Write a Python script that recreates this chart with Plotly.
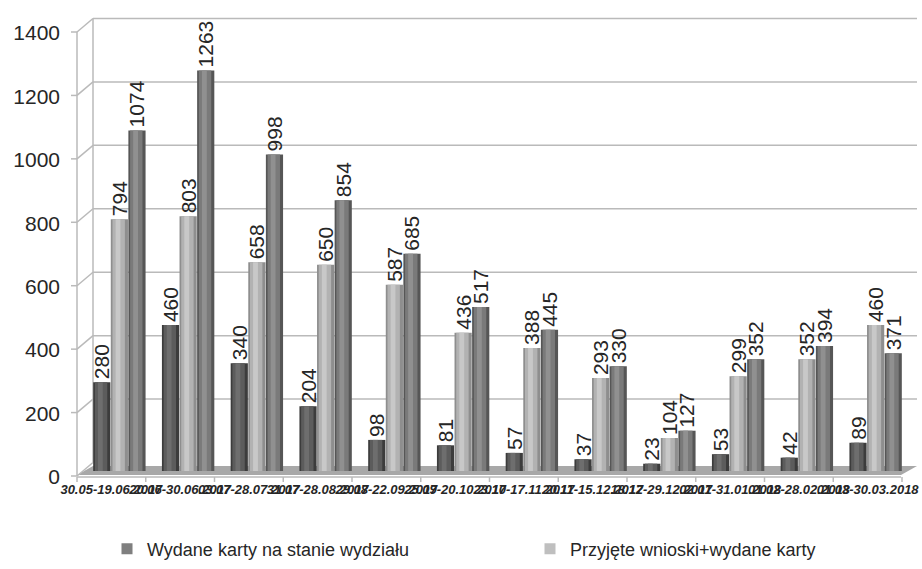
import plotly.graph_objects as go

# ---- data -------------------------------------------------------------
periods = [
    "30.05-19.06.2017", "20.06-30.06.2017", "03.07-28.07.2017", "31.07-28.08.2017",
    "29.08-22.09.2017", "25.09-20.10.2017", "23.10-17.11.2017", "20.11-15.12.2017",
    "18.12-29.12.2017", "02.01-31.01.2018", "01.02-28.02.2018", "01.03-30.03.2018",
]
wydane_na_stanie = [280, 460, 340, 204, 98, 81, 57, 37, 23, 53, 42, 89]
przyjete_wnioski = [794, 803, 658, 650, 587, 436, 388, 293, 104, 299, 352, 460]
wydane_karty = [1074, 1263, 998, 854, 685, 517, 445, 330, 127, 352, 394, 371]
y_ticks = [0, 200, 400, 600, 800, 1000, 1200, 1400]

# ---- page geometry (pixels) ------------------------------------------
W, H = 922, 569
L, R, T, B = 85, 12, 27, 98
PW, PH = W - L - R, H - T - B
Y_MAX = 1400
DX = 8           # half depth of the pseudo-3D box, horizontal
BACK_DY = 8.5    # back wall sits higher than the bar plane
FRONT_DY = 5     # front edge sits lower than the bar plane

FONT = "Liberation Sans, Arial, sans-serif"


def px(x):
    return (x - L) / PW


def py(y):
    return (T + PH - y) / PH


def mid_y(v):
    return T + PH - v * PH / Y_MAX


def line(x0, y0, x1, y1, color="#bababa", width=1.5):
    return dict(type="line", xref="paper", yref="paper",
                x0=px(x0), y0=py(y0), x1=px(x1), y1=py(y1),
                line=dict(color=color, width=width), layer="below")


shapes = []
x_front_l, x_back_l = L - DX, L + DX
x_back_r = W - R + DX - 1
x_front_r = x_back_r - 2 * DX

# floor slab
fl = [(x_front_l, mid_y(0) + 4), (x_front_r, mid_y(0) + 4),
      (x_back_r, mid_y(0) - 5), (x_back_l, mid_y(0) - 5)]
path = "M " + " L ".join(f"{px(a):.5f},{py(b):.5f}" for a, b in fl) + " Z"
shapes.append(dict(type="path", xref="paper", yref="paper", path=path,
                   fillcolor="#a8a8a8", line=dict(width=0), layer="below"))

# back wall grid, side wall diagonals, front axis ticks
for v in y_ticks:
    yb = mid_y(v) - BACK_DY
    yf = mid_y(v) + FRONT_DY
    if v > 0:
        shapes.append(line(x_back_l, yb, x_back_r, yb))
    shapes.append(line(x_front_l, yf, x_back_l, yb))
    shapes.append(line(x_front_l - 6, yf, x_front_l, yf))
shapes.append(line(x_back_l, mid_y(0) - BACK_DY, x_back_l, mid_y(Y_MAX) - BACK_DY))
shapes.append(line(x_front_l, mid_y(0) + FRONT_DY, x_front_l, mid_y(Y_MAX) + FRONT_DY))

# front category axis with boundary ticks
y_ax = mid_y(0) + 6
shapes.append(line(x_front_l, y_ax, x_front_r, y_ax))
step = PW / len(periods)
for k in range(len(periods) + 1):
    xk = x_front_l + k * step
    shapes.append(line(xk, y_ax, xk, y_ax + 5))

# ---- bars -------------------------------------------------------------
x_idx = list(range(len(periods)))
BW = 0.25
PITCH = 0.256

series = [
    (wydane_na_stanie, -PITCH, "#3c3c3c", "#5c5c5c", "#6e6e6e"),
    (przyjete_wnioski, 0.0, "#8e8e8e", "#b2b2b2", "#c8c8c8"),
    (wydane_karty, PITCH, "#565656", "#7a7a7a", "#909090"),
]

fig = go.Figure()
for vals, centre, edge, body, shine in series:
    fig.add_trace(go.Bar(
        x=x_idx, y=vals, width=BW, offset=centre - BW / 2,
        marker=dict(color=edge, line=dict(width=0)),
        text=[str(v) for v in vals], textposition="outside", textangle=-90,
        constraintext="none", cliponaxis=False,
        textfont=dict(family=FONT, size=21, color="#262626"),
        showlegend=False, hoverinfo="skip",
    ))
    fig.add_trace(go.Bar(
        x=x_idx, y=vals, width=BW * 0.72, offset=centre - BW * 0.40,
        marker=dict(color=body, line=dict(width=0)),
        showlegend=False, hoverinfo="skip",
    ))
    fig.add_trace(go.Bar(
        x=x_idx, y=vals, width=BW * 0.28, offset=centre - BW * 0.22,
        marker=dict(color=shine, line=dict(width=0)),
        showlegend=False, hoverinfo="skip",
    ))

# legend entries, one legend box each
legend_items = [("Wydane karty na stanie wydziału", "#7f7f7f", "legend", 107),
                ("Przyjęte wnioski+wydane karty", "#bfbfbf", "legend2", 530)]
for name, colour, lg, _ in legend_items:
    fig.add_trace(go.Scatter(
        x=[None], y=[None], mode="markers", name=name, legend=lg,
        marker=dict(symbol="square", size=11, color=colour),
    ))

legend_style = dict(
    orientation="h", xanchor="left", y=py(549), yanchor="middle",
    font=dict(family=FONT, size=18, color="#262626"),
    itemwidth=30, bgcolor="rgba(0,0,0,0)",
)

fig.update_layout(
    width=W, height=H,
    margin=dict(l=L, r=R, t=T, b=B, pad=0, autoexpand=False),
    paper_bgcolor="white", plot_bgcolor="rgba(0,0,0,0)",
    barmode="overlay",
    font=dict(family=FONT, color="#262626"),
    shapes=shapes,
    xaxis=dict(
        range=[-0.5, len(periods) - 0.5],
        tickmode="array", tickvals=x_idx, ticktext=periods, tickangle=0,
        showgrid=False, zeroline=False, showline=False, ticks="",
        tickfont=dict(family=FONT, size=13, color="#262626",
                      weight="bold", style="italic"),
        ticklabelshift=-DX, ticklabelstandoff=9,
        ticklabeloverflow="allow",
    ),
    yaxis=dict(
        range=[0, Y_MAX], tickmode="array", tickvals=y_ticks,
        showgrid=False, zeroline=False, showline=False, ticks="",
        tickfont=dict(family=FONT, size=21, color="#262626"),
        ticklabelshift=6, ticklabelstandoff=24,
    ),
    legend=dict(legend_style, x=px(legend_items[0][3])),
    legend2=dict(legend_style, x=px(legend_items[1][3])),
)

fig.write_html("out.html")
